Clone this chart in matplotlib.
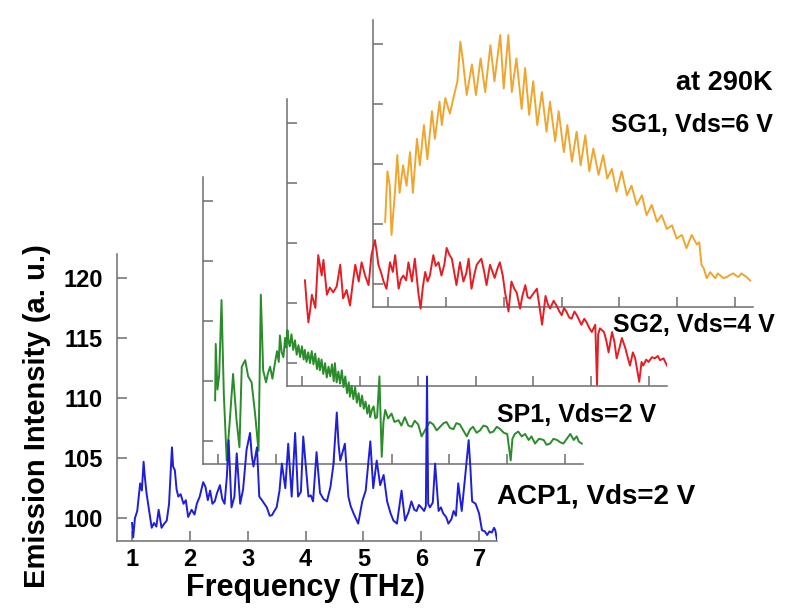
import matplotlib.pyplot as plt

# ACP1 (front, blue)
acp_x = [1.0, 1.02, 1.05, 1.09, 1.14, 1.17, 1.2, 1.22, 1.25, 1.29, 1.34, 1.38, 1.42, 1.46, 1.51,
         1.55, 1.6, 1.64, 1.69, 1.71, 1.74, 1.77, 1.8, 1.84, 1.89, 1.93, 1.97, 2.03, 2.08, 2.12,
         2.17, 2.23, 2.27, 2.31, 2.35, 2.39, 2.43, 2.47, 2.52, 2.56, 2.6, 2.64, 2.67, 2.72, 2.77,
         2.81, 2.87, 2.92, 2.98, 3.04, 3.07, 3.1, 3.16, 3.2, 3.26, 3.33, 3.38, 3.42, 3.46, 3.5,
         3.55, 3.59, 3.65, 3.7, 3.76, 3.82, 3.87, 3.92, 3.96, 4.05, 4.09, 4.13, 4.19, 4.25, 4.31,
         4.37, 4.43, 4.48, 4.54, 4.57, 4.6, 4.68, 4.74, 4.78, 4.83, 4.91, 4.98, 5.04, 5.12, 5.17,
         5.23, 5.29, 5.35, 5.41, 5.47, 5.52, 5.58, 5.66, 5.72, 5.78, 5.83, 5.88, 5.92, 5.96, 6.0,
         6.05, 6.08, 6.1, 6.12, 6.15, 6.2, 6.24, 6.3, 6.34, 6.38, 6.43, 6.47, 6.52, 6.56, 6.6,
         6.64, 6.7, 6.76, 6.82, 6.85, 6.88, 6.94, 7.0, 7.05, 7.1, 7.14, 7.18, 7.22, 7.26, 7.28, 7.31]
acp_y = [99.6, 98.4, 100.0, 100.6, 102.9, 102.3, 104.7, 103.5, 102.1, 100.8, 99.2, 99.6, 99.3, 100.7, 99.2,
         99.5, 99.8, 101.2, 105.9, 104.3, 104.0, 102.4, 101.8, 102.0, 101.2, 101.5, 100.1, 100.7, 100.3, 101.2,
         101.8, 103.0, 102.6, 101.5, 102.3, 101.2, 101.4, 102.1, 102.75, 101.6, 101.2, 103.5, 106.5, 100.9, 101.8,
         105.4, 101.2, 102.4, 105.7, 107.1, 105.2, 104.3, 105.9, 101.8, 101.4, 100.9, 100.2, 100.25, 100.6, 100.9,
         102.3, 104.55, 102.5, 106.2, 101.8, 107.1, 101.8, 102.2, 106.8, 101.8, 101.9, 101.4, 105.5, 102.1, 101.6,
         101.4, 102.6, 104.4, 108.8, 106.2, 104.8, 106.2, 101.8, 101.0, 100.4, 99.55, 101.4, 102.3, 106.4, 102.5,
         104.8, 102.75, 103.6, 101.4, 100.4, 99.8, 99.55, 102.3, 99.8, 100.5, 101.4, 100.7, 100.6, 101.1, 100.9,
         100.6, 101.0, 111.8, 101.2, 100.9, 101.3, 104.55, 100.6, 100.9, 100.4, 100.1, 99.55, 99.9, 100.6, 100.2,
         102.9, 100.6, 103.5, 106.5, 104.2, 101.4, 101.2, 100.4, 99.0, 98.9, 98.6, 98.9, 98.8, 99.2, 99.0, 98.2]

# SP1 (green)
sp_x = [0.95, 0.96, 0.99, 1.02, 1.06, 1.1, 1.15, 1.2, 1.26, 1.32, 1.37, 1.41, 1.47, 1.52, 1.58,
        1.64, 1.70, 1.74, 1.78, 1.83, 1.86, 1.9, 1.94, 1.98, 2.02, 2.05, 2.07, 2.1, 2.13, 2.16,
        2.18, 2.2, 2.22, 2.24, 2.27, 2.3, 2.33, 2.36, 2.39, 2.42, 2.45, 2.48, 2.5, 2.53, 2.56,
        2.59, 2.62, 2.65, 2.68, 2.71, 2.74, 2.76, 2.79, 2.82, 2.85, 2.88, 2.91, 2.94, 2.97, 3.0,
        3.02, 3.05, 3.08, 3.11, 3.14, 3.17, 3.2, 3.23, 3.26, 3.28, 3.31, 3.34, 3.37, 3.4, 3.43,
        3.46, 3.49, 3.52, 3.55, 3.58, 3.61, 3.63, 3.66, 3.69, 3.72, 3.75, 3.79, 3.83, 3.86, 3.89,
        3.94, 4.0, 4.05, 4.12, 4.17, 4.23, 4.29, 4.35, 4.4, 4.46, 4.52, 4.6, 4.66, 4.72, 4.78,
        4.84, 4.9, 4.95, 5.01, 5.07, 5.12, 5.18, 5.24, 5.3, 5.36, 5.41, 5.47, 5.53, 5.59, 5.65,
        5.7, 5.76, 5.82, 5.88, 5.94, 6.0, 6.06, 6.09, 6.13, 6.19, 6.25, 6.31, 6.37, 6.42, 6.48,
        6.55, 6.63, 6.68, 6.74, 6.8, 6.86, 6.92, 6.97, 7.03, 7.09, 7.15, 7.2, 7.24, 7.29]
sp_y = [103.4, 108.1, 104.3, 105.5, 111.75, 103.9, 98.4, 101.5, 105.6, 101.75, 99.5, 106.2, 106.75, 105.4, 104.9,
        102.3, 99.2, 112.2, 105.9, 104.9, 105.6, 106.2, 105.2, 106.4, 107.5, 106.6, 108.8, 107.4, 107.0, 108.6,
        107.8, 109.25, 108.3, 107.9, 108.9, 107.6, 108.4, 107.2, 108.0, 107.0, 107.9, 106.8, 107.6, 106.6, 107.4,
        106.5, 107.5, 106.4, 107.3, 106.0, 106.9, 105.9, 106.8, 105.6, 106.5, 105.3, 106.2, 105.4, 106.4, 105.0,
        106.5, 104.9, 105.8, 104.8, 105.9, 104.5, 105.4, 104.0, 104.9, 103.7, 104.6, 103.5, 104.5, 103.2, 104.0,
        102.9, 103.8, 102.7, 103.3, 102.3, 103.0, 102.0, 102.6, 102.9, 101.9, 102.0, 105.4, 98.7, 101.6, 102.6,
        101.9, 102.3, 101.6, 101.75, 101.3, 102.0, 101.3, 101.2, 101.7, 101.4, 100.4, 101.1, 101.6, 101.4, 100.9,
        101.2, 101.5, 101.6, 101.1, 101.0, 101.5, 101.4, 100.9, 100.4, 101.0, 101.2, 100.7, 100.9, 101.3, 101.2,
        100.7, 100.8, 101.2, 101.0, 100.7, 100.6, 98.4, 100.2, 100.6, 100.8, 100.4, 100.6, 100.1, 100.4, 99.8,
        100.2, 100.1, 99.7, 99.8, 100.2, 100.1, 99.9, 99.8, 100.2, 100.6, 100.1, 100.4, 99.95, 99.8]

# SG2 (red)
sg2_x = [1.05, 1.08, 1.11, 1.14, 1.17, 1.23, 1.28, 1.34, 1.37, 1.43, 1.48, 1.54, 1.6, 1.66, 1.71,
         1.77, 1.83, 1.87, 1.92, 1.98, 2.03, 2.09, 2.15, 2.2, 2.26, 2.29, 2.32, 2.37, 2.41, 2.46,
         2.52, 2.57, 2.61, 2.67, 2.71, 2.75, 2.8, 2.84, 2.9, 2.95, 3.01, 3.05, 3.09, 3.13, 3.17,
         3.21, 3.27, 3.31, 3.36, 3.41, 3.46, 3.5, 3.55, 3.59, 3.67, 3.73, 3.79, 3.84, 3.88, 3.93,
         3.98, 4.02, 4.1, 4.15, 4.19, 4.25, 4.33, 4.38, 4.42, 4.47, 4.51, 4.57, 4.62, 4.67, 4.71,
         4.77, 4.81, 4.86, 4.9, 4.94, 5.0, 5.06, 5.1, 5.15, 5.21, 5.25, 5.29, 5.35, 5.4, 5.45,
         5.49, 5.53, 5.57, 5.62, 5.66, 5.71, 5.75, 5.79, 5.83, 5.88, 5.92, 5.97, 6.01, 6.07, 6.1,
         6.12, 6.15, 6.22, 6.26, 6.3, 6.36, 6.4, 6.44, 6.49, 6.53, 6.59, 6.63, 6.67, 6.72, 6.76,
         6.83, 6.87, 6.9, 6.95, 6.99, 7.05, 7.1, 7.15, 7.19, 7.25, 7.31]
sg2_y = [106.9, 105.0, 103.4, 104.4, 105.7, 104.6, 109.0, 107.3, 108.6, 105.7, 106.3, 105.9, 106.4, 108.2, 105.4,
         106.1, 104.8, 106.4, 108.2, 106.8, 108.4, 107.3, 106.5, 109.0, 110.25, 109.3, 108.2, 107.5, 106.8, 106.2,
         108.4, 107.6, 109.0, 106.2, 107.0, 107.3, 106.9, 108.4, 106.8, 108.7, 105.9, 104.55, 106.4, 107.6, 106.8,
         107.3, 109.0, 108.1, 108.4, 107.3, 108.2, 109.6, 109.0, 108.7, 106.5, 108.4, 106.8, 107.5, 108.7, 106.2,
         107.4, 108.2, 108.7, 107.6, 106.5, 108.2, 107.1, 107.9, 108.4, 107.3, 105.9, 104.3, 106.8, 106.2, 105.9,
         104.55, 105.6, 106.5, 105.5, 105.4, 105.8, 106.2, 104.9, 103.2, 105.6, 104.9, 104.55, 105.2, 104.8, 104.3,
         104.0, 104.6, 104.3, 103.8, 103.7, 104.3, 104.0, 103.6, 103.2, 103.7, 103.4, 102.9, 102.6, 103.2, 98.2,
         102.4, 102.9, 102.6, 101.9, 100.9, 102.6, 101.8, 100.4, 101.3, 102.1, 101.25, 100.5, 99.8, 100.9, 100.4,
         98.45, 100.1, 99.8, 100.3, 100.1, 100.5, 100.4, 100.6, 100.25, 100.4, 99.8]

# SG1 (orange, back)
sg1_x = [0.95, 0.99, 1.03, 1.06, 1.12, 1.16, 1.2, 1.26, 1.32, 1.38, 1.43, 1.5, 1.55, 1.62, 1.68,
         1.76, 1.81, 1.89, 1.93, 1.99, 2.07, 2.13, 2.2, 2.25, 2.29, 2.36, 2.45, 2.52, 2.6, 2.68,
         2.77, 2.84, 2.94, 3.0, 3.08, 3.14, 3.22, 3.31, 3.37, 3.44, 3.51, 3.58, 3.66, 3.74, 3.8,
         3.89, 3.95, 4.04, 4.1, 4.18, 4.26, 4.33, 4.41, 4.48, 4.55, 4.64, 4.72, 4.79, 4.87, 4.95,
         5.04, 5.13, 5.21, 5.3, 5.39, 5.47, 5.56, 5.65, 5.73, 5.82, 5.91, 5.99, 6.08, 6.16, 6.25,
         6.34, 6.38, 6.42, 6.46, 6.51, 6.57, 6.62, 6.66, 6.7, 6.74, 6.8, 6.86, 6.92, 6.97, 7.02,
         7.06, 7.11, 7.15, 7.2, 7.26]
sg1_y = [105.2, 109.4, 108.2, 104.1, 107.7, 110.75, 107.6, 109.9, 108.2, 111.0, 107.6, 112.1, 109.9, 113.25, 110.4,
         114.4, 112.1, 115.2, 113.25, 115.5, 114.2, 115.5, 116.9, 120.2, 118.8, 115.75, 118.3, 115.75, 118.8, 116.0,
         119.9, 116.9, 120.75, 116.3, 120.75, 116.0, 118.8, 114.6, 118.0, 114.1, 116.9, 113.25, 116.0, 112.7, 115.2,
         111.9, 114.4, 111.0, 113.25, 110.2, 112.7, 109.9, 112.4, 109.4, 111.3, 109.1, 110.75, 108.8, 109.6, 107.7,
         109.4, 107.4, 108.2, 106.6, 107.4, 105.75, 106.6, 105.2, 105.75, 104.6, 104.9, 103.8, 104.1, 103.0, 104.1,
         103.3, 103.5, 101.6, 101.3, 100.5, 101.0, 100.7, 100.5, 100.9, 100.75, 100.5, 100.6, 100.8, 100.9, 100.7,
         100.6, 100.9, 100.75, 100.6, 100.3]

x_ticks = [1, 2, 3, 4, 5, 6, 7]
y_ticks = [100, 105, 110, 115, 120]

plt.rcParams['font.family'] = ['Liberation Sans', 'DejaVu Sans']
plt.rcParams['font.weight'] = 'bold'

W, H = 796, 612
fig = plt.figure(figsize=(W / 100, H / 100), dpi=100)

# pixel boxes (left, bottom-edge y from top) of each stacked panel, back to front
panels = [
    (373, 307, sg1_x, sg1_y, '#eea630'),
    (287, 386, sg2_x, sg2_y, '#e31e24'),
    (203, 464, sp_x, sp_y, '#2a8c2a'),
    (117, 541, acp_x, acp_y, '#1f1fd8'),
]
ax_w, ax_h = 380, 287
spine_c = '#6e6e6e'

for i, (left, bot, xs, ys, col) in enumerate(panels):
    ax = fig.add_axes([left / W, 1 - bot / H, ax_w / W, ax_h / H])
    ax.patch.set_alpha(0)
    ax.plot(xs, ys, color=col, lw=1.4)
    ax.set_xlim(0.74, 7.31)
    ax.set_ylim(98.1, 122.0)
    ax.set_xticks(x_ticks)
    ax.set_yticks(y_ticks)
    for s in ['top', 'right']:
        ax.spines[s].set_visible(False)
    for s in ['left', 'bottom']:
        ax.spines[s].set_color(spine_c)
        ax.spines[s].set_linewidth(1.1)
    ax.tick_params(direction='in', length=7.5, width=1.1, color=spine_c)
    if i == len(panels) - 1:
        ax.tick_params(axis='y', pad=10, labelsize=17)
        ax.tick_params(axis='x', pad=5, labelsize=17)
    else:
        ax.set_xticklabels([])
        ax.set_yticklabels([])

fig.text(305 / W, 1 - 588 / H, 'Frequency (THz)', ha='center', va='center',
         fontsize=22, fontweight='bold')
fig.text(37 / W, 1 - 416 / H, 'Emission Intensity (a. u.)', ha='center', va='center',
         rotation=90, fontsize=21, fontweight='bold')

fig.text(773 / W, 1 - 83 / H, 'at 290K', ha='right', va='center', fontsize=19.5, fontweight='bold')
fig.text(773 / W, 1 - 125 / H, 'SG1, Vds=6 V', ha='right', va='center', fontsize=18, fontweight='bold')
fig.text(775 / W, 1 - 325 / H, 'SG2, Vds=4 V', ha='right', va='center', fontsize=18, fontweight='bold')
fig.text(497 / W, 1 - 415 / H, 'SP1, Vds=2 V', ha='left', va='center', fontsize=18, fontweight='bold')
fig.text(497 / W, 1 - 497 / H, 'ACP1, Vds=2 V', ha='left', va='center', fontsize=20, fontweight='bold')

fig.savefig('out.png', dpi=100)
